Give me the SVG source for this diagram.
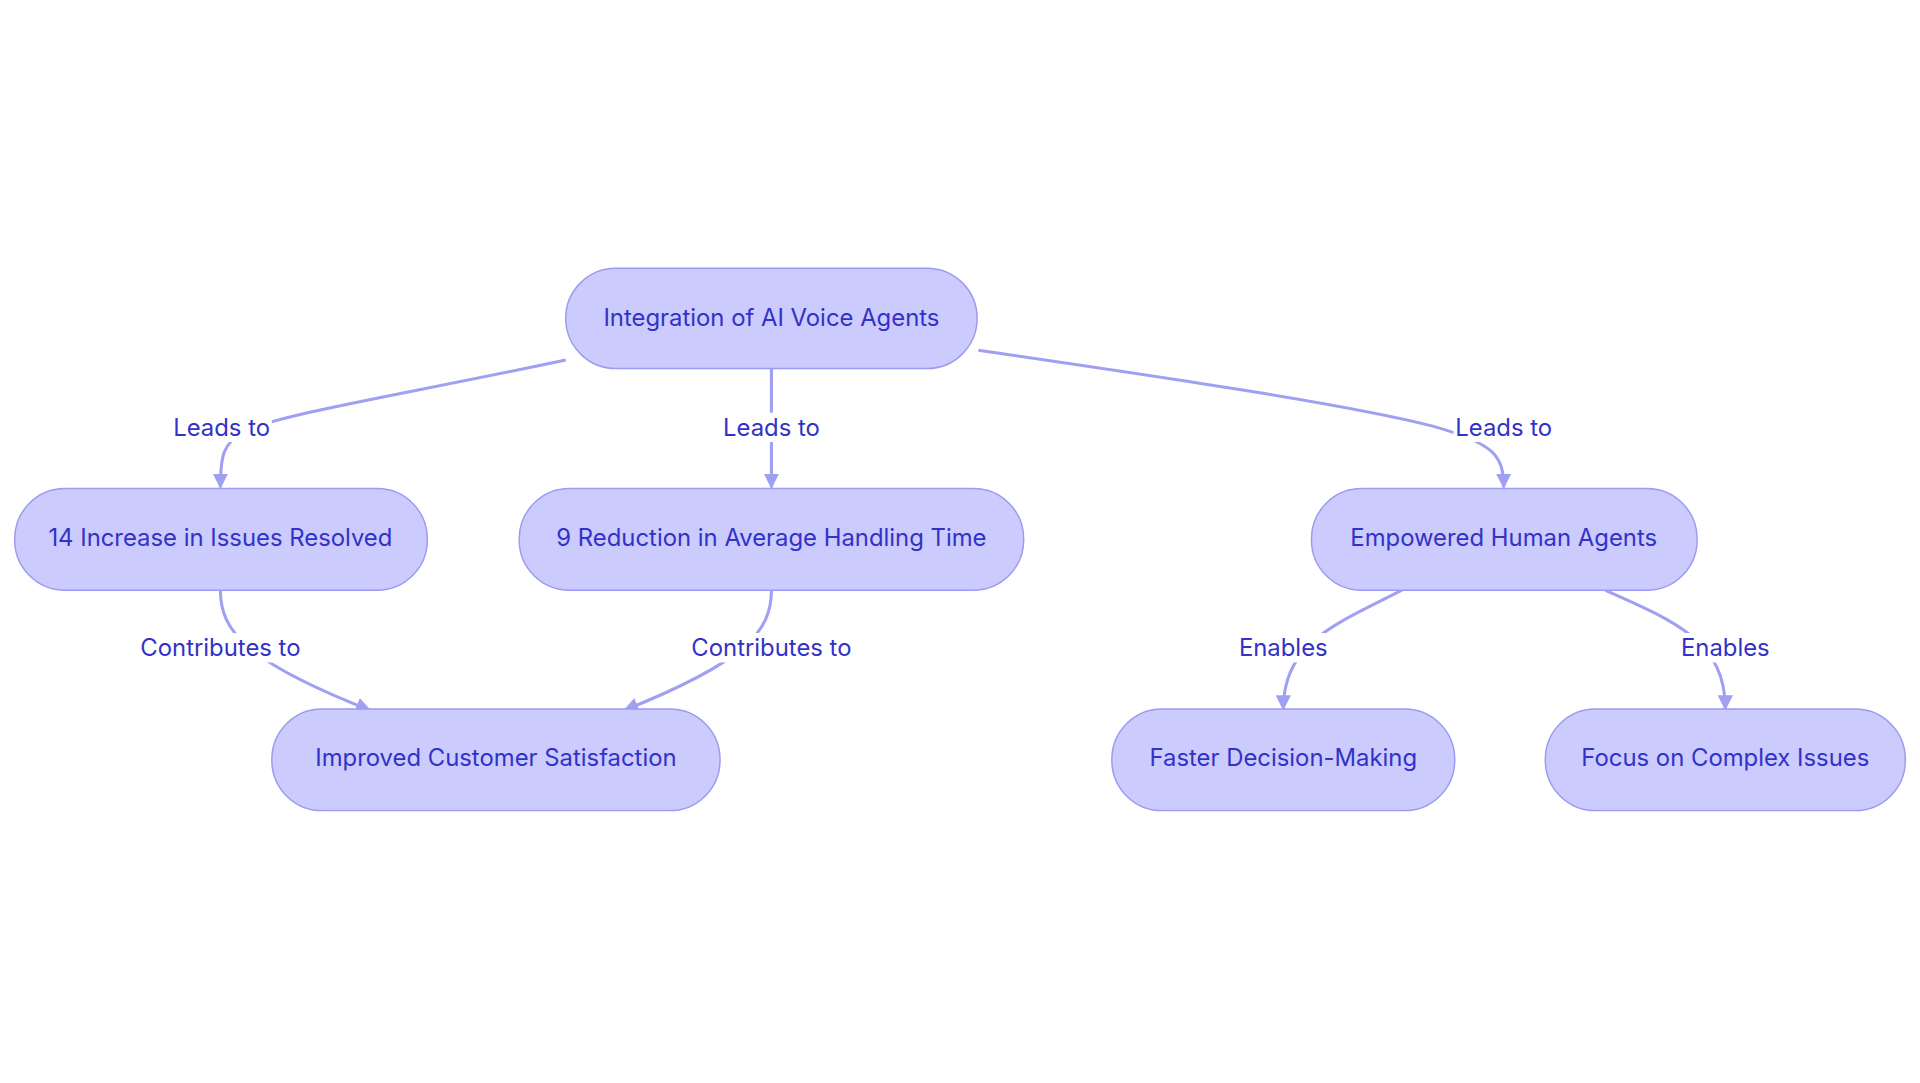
<svg xmlns="http://www.w3.org/2000/svg" width="1920" height="1083" viewBox="0 0 1920 1083">
<style>
.n rect{fill:#cbcbfd;stroke:#9b9bf0;stroke-width:1.2}
.n text,.l text{font-family:Inter,"Liberation Sans",sans-serif;font-size:19.5px;fill:#3232c8;text-anchor:middle;dominant-baseline:central}
.e{fill:none;stroke:#a0a0f2;stroke-width:2.5}
.l rect{fill:#ffffff}
</style>
<defs><marker id="a" viewBox="0 0 10 10" refX="9" refY="5" markerWidth="5" markerHeight="5" orient="auto"><path d="M0,0L10,5L0,10z" fill="#a0a0f2"/></marker></defs>
<rect width="1920" height="1083" fill="#fff"/>
<g transform="scale(1.2245)">
<g id="connectors">
<path class="e" marker-end="url(#a)" d="M462,294 C330,322 230,338 200,352 C182,362 180,372 180,398"/>
<path class="e" marker-end="url(#a)" d="M630,301 L630,398"/>
<path class="e" marker-end="url(#a)" d="M799,286 C950,308 1100,330 1170,348 C1220,362 1228,372 1228,398"/>
<path class="e" marker-end="url(#a)" d="M180,482 C180,515 200,540 302,580"/>
<path class="e" marker-end="url(#a)" d="M630,482 C630,515 610,540 510,580"/>
<path class="e" marker-end="url(#a)" d="M1145,482 C1090,510 1048,525 1048,579"/>
<path class="e" marker-end="url(#a)" d="M1311,482 C1370,508 1409,525 1409,579"/>
</g>
<g class="l">
<g><rect x="140" y="337" width="82" height="24"/><text x="181" y="349">Leads to</text></g>
<g><rect x="589" y="337" width="82" height="24"/><text x="630" y="349">Leads to</text></g>
<g><rect x="1187" y="337" width="82" height="24"/><text x="1228" y="349">Leads to</text></g>
<g><rect x="110" y="517" width="140" height="24"/><text x="180" y="529">Contributes to</text></g>
<g><rect x="560" y="517" width="140" height="24"/><text x="630" y="529">Contributes to</text></g>
<g><rect x="1010" y="517" width="76" height="24"/><text x="1048" y="529">Enables</text></g>
<g><rect x="1371" y="517" width="76" height="24"/><text x="1409" y="529">Enables</text></g>
</g>
<g id="n1" class="n"><rect x="462" y="219" width="336" height="82" rx="41"/><text x="630" y="259">Integration of AI Voice Agents</text></g>
<g id="n2" class="n"><rect x="12" y="399" width="337" height="83" rx="41"/><text x="180" y="439">14 Increase in Issues Resolved</text></g>
<g id="n3" class="n"><rect x="424" y="399" width="412" height="83" rx="41"/><text x="630" y="439">9 Reduction in Average Handling Time</text></g>
<g id="n4" class="n"><rect x="1071" y="399" width="315" height="83" rx="41"/><text x="1228" y="439">Empowered Human Agents</text></g>
<g id="n5" class="n"><rect x="222" y="579" width="366" height="83" rx="41"/><text x="405" y="619">Improved Customer Satisfaction</text></g>
<g id="n6" class="n"><rect x="908" y="579" width="280" height="83" rx="41"/><text x="1048" y="619">Faster Decision-Making</text></g>
<g id="n7" class="n"><rect x="1262" y="579" width="294" height="83" rx="41"/><text x="1409" y="619">Focus on Complex Issues</text></g>
</g>
</svg>
